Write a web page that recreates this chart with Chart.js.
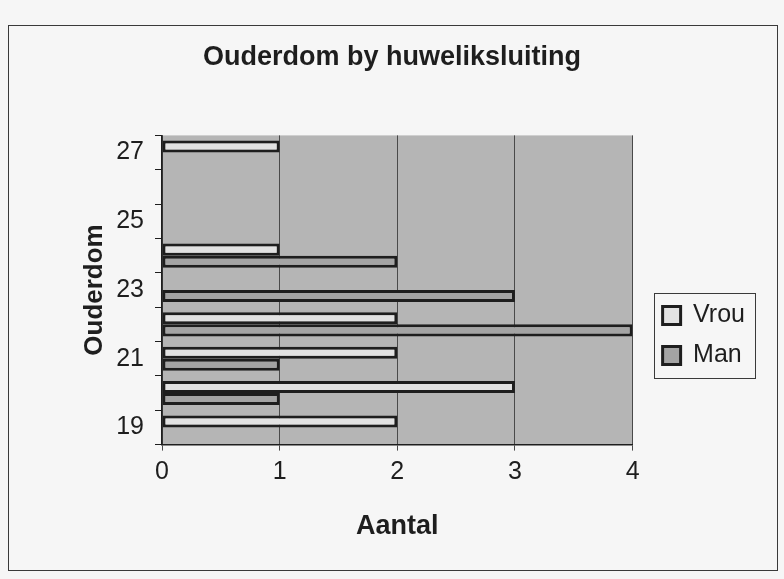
<!DOCTYPE html>
<html>
<head>
<meta charset="utf-8">
<script src="https://cdn.jsdelivr.net/npm/chart.js@4/dist/chart.umd.min.js"></script>
<style>
  html, body { margin: 0; padding: 0; background: #f5f5f5; }
  #wrap { width: 784px; height: 579px; position: relative; }
</style>
</head>
<body>
<div id="wrap"><canvas id="c" width="784" height="579"></canvas></div>
<script>
// ---- data ----
const ages = ['19', '20', '21', '22', '23', '24', '25', '26', '27'];
const tickAges = ['19', '21', '23', '25', '27'];
const vrou = [2, 3, 2, 2, 0, 1, 0, 0, 1];
const man = [0, 1, 1, 4, 3, 2, 0, 0, 0];
const seriesNames = ['Vrou', 'Man'];
const xMin = 0, xMax = 4, xStep = 1;

const FONT = "'Liberation Sans', Arial, Helvetica, sans-serif";
const INK = '#1e1e1e';

const framePlugin = {
  id: 'frame',
  beforeDraw(chart) {
    const { ctx, chartArea: a } = chart;
    ctx.save();
    ctx.fillStyle = '#f6f6f6';
    ctx.fillRect(0, 0, chart.width, chart.height);
    ctx.strokeStyle = '#3a3a3a';
    ctx.lineWidth = 1;
    ctx.strokeRect(8.5, 25.5, 769, 545);
    ctx.fillStyle = '#b5b5b5';
    ctx.fillRect(a.left, a.top, a.right - a.left, a.bottom - a.top);
    ctx.restore();
  }
};

const placePlugin = {
  id: 'place',
  afterLayout(chart) {
    const lg = chart.legend;
    if (lg) {
      const dx = 15, dy = 38;
      lg.left += dx; lg.right += dx;
      lg.top += dy; lg.bottom += dy;
    }
    const tb = chart.titleBlock;
    if (tb) { tb.left += 17; tb.right += 17; }
  },
  afterDraw(chart) {
    const lg = chart.legend;
    if (!lg || !lg.legendHitBoxes || !lg.legendHitBoxes.length) return;
    const hb = lg.legendHitBoxes;
    const first = hb[0], last = hb[hb.length - 1];
    const ctx = chart.ctx;
    ctx.save();
    ctx.strokeStyle = '#3a3a3a';
    ctx.lineWidth = 1;
    const l = Math.round(lg.left + 6) + 0.5;
    const r = Math.round(lg.right) + 0.5;
    const t = Math.round(first.top - 10) + 0.5;
    const b = Math.round(last.top + last.height + 10) + 0.5;
    ctx.strokeRect(l, t, r - l, b - t);
    ctx.restore();
  }
};

new Chart(document.getElementById('c'), {
  type: 'bar',
  data: {
    labels: ages,
    datasets: [
      {
        label: seriesNames[0],
        data: vrou,
        backgroundColor: '#e2e2e2',
        borderColor: INK,
        borderWidth: 3,
        borderSkipped: false
      },
      {
        label: seriesNames[1],
        data: man,
        backgroundColor: '#a4a4a4',
        borderColor: INK,
        borderWidth: 3,
        borderSkipped: false
      }
    ]
  },
  options: {
    indexAxis: 'y',
    responsive: false,
    animation: false,
    devicePixelRatio: 1,
    categoryPercentage: 0.7,
    barPercentage: 1.0,
    layout: { padding: { left: 10, right: 44, top: 25, bottom: 9 } },
    plugins: {
      title: {
        display: true,
        text: 'Ouderdom by huweliksluiting',
        color: INK,
        font: { family: FONT, size: 27, weight: 'bold' },
        padding: { top: 16, bottom: 62 }
      },
      legend: {
        display: true,
        position: 'right',
        labels: {
          color: INK,
          font: { family: FONT, size: 25 },
          boxWidth: 18,
          boxHeight: 18,
          padding: 15
        }
      },
      tooltip: { enabled: false }
    },
    scales: {
      x: {
        type: 'linear',
        min: xMin,
        max: xMax,
        ticks: {
          stepSize: xStep,
          color: INK,
          padding: 7,
          font: { family: FONT, size: 25 }
        },
        grid: { color: '#4a4a4a', lineWidth: 1, tickLength: 6, drawTicks: true },
        border: { color: INK, width: 1.5 },
        title: {
          display: true,
          text: 'Aantal',
          color: INK,
          font: { family: FONT, size: 27, weight: 'bold' },
          padding: { top: 16, bottom: 27 }
        }
      },
      y: {
        type: 'category',
        reverse: true,
        ticks: {
          autoSkip: false,
          color: INK,
          padding: 11,
          font: { family: FONT, size: 25 },
          callback: function (value) {
            const l = this.getLabelForValue(value);
            return tickAges.includes(l) ? l : '';
          }
        },
        grid: { offset: true, drawOnChartArea: false, drawTicks: true, tickLength: 7, color: INK },
        border: { color: INK, width: 1.5 },
        title: {
          display: true,
          text: 'Ouderdom',
          color: INK,
          font: { family: FONT, size: 26, weight: 'bold' },
          padding: { top: 69, bottom: -5 }
        }
      }
    }
  },
  plugins: [framePlugin, placePlugin]
});
</script>
</body>
</html>
